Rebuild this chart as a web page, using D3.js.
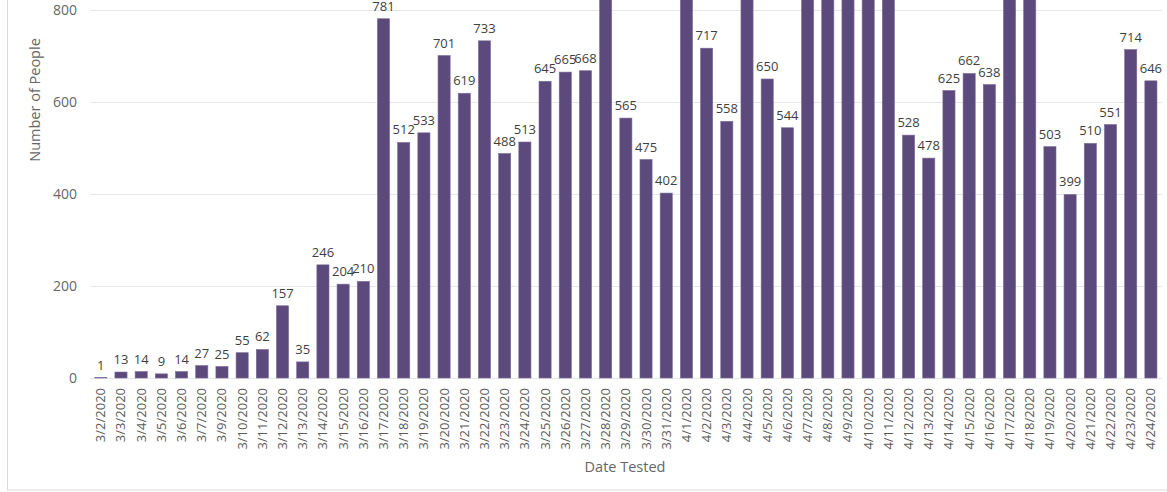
<!DOCTYPE html>
<html>
<head>
<meta charset="utf-8">
<script src="https://cdn.jsdelivr.net/npm/d3@7"></script>
<style>
  body { margin: 0; background: #fff; }
  svg { display: block; font-family: "Open Sans", "Noto Sans", sans-serif; }
  .grid line { stroke: #e6e6e6; }
  .tick-y { fill: #666; font-size: 14px; }
  .tick-x { fill: #595959; font-size: 13px; }
  .bar-label { fill: #3f3f3f; font-size: 13px; }
  .axis-title { fill: #666; font-size: 14.5px; }
</style>
</head>
<body>
<div id="chart"></div>
<script>
// dates tested (no 3/8 in the source)
const dates = ["3/2/2020", "3/3/2020", "3/4/2020", "3/5/2020", "3/6/2020", "3/7/2020", "3/9/2020",
  "3/10/2020", "3/11/2020", "3/12/2020", "3/13/2020", "3/14/2020", "3/15/2020", "3/16/2020",
  "3/17/2020", "3/18/2020", "3/19/2020", "3/20/2020", "3/21/2020", "3/22/2020", "3/23/2020",
  "3/24/2020", "3/25/2020", "3/26/2020", "3/27/2020", "3/28/2020", "3/29/2020", "3/30/2020",
  "3/31/2020", "4/1/2020", "4/2/2020", "4/3/2020", "4/4/2020", "4/5/2020", "4/6/2020",
  "4/7/2020", "4/8/2020", "4/9/2020", "4/10/2020", "4/11/2020", "4/12/2020", "4/13/2020",
  "4/14/2020", "4/15/2020", "4/16/2020", "4/17/2020", "4/18/2020", "4/19/2020", "4/20/2020",
  "4/21/2020", "4/22/2020", "4/23/2020", "4/24/2020"];

// people tested per day (bars above 800 are cut off in the picture, their values are guesses)
const people = [1, 13, 14, 9, 14, 27, 25,
  55, 62, 157, 35, 246, 204, 210,
  781, 512, 533, 701, 619, 733, 488,
  513, 645, 665, 668, 870, 565, 475,
  402, 905, 717, 558, 880, 650, 544,
  1020, 960, 990, 1010, 930, 528, 478,
  625, 662, 638, 890, 860, 503, 399,
  510, 551, 714, 646];

const yTicks = [0, 200, 400, 600, 800];

const width = 1167, height = 492;

const svg = d3.select('#chart').append('svg')
  .attr('width', width)
  .attr('height', height);

// light frame round the chart
svg.append('rect')
  .attr('x', 7.5).attr('y', -10)
  .attr('width', width + 10).attr('height', 500)
  .attr('fill', 'none').attr('stroke', '#dadada');

const x = d3.scaleBand()
  .domain(dates)
  .range([90.7, 1161])
  .paddingInner(0.4)
  .paddingOuter(0.2);

const y = d3.scaleLinear()
  .domain([0, 800])
  .range([378, 10]);

// gridlines
const grid = svg.append('g').attr('class', 'grid');
grid.selectAll('line')
  .data(yTicks)
  .join('line')
  .attr('x1', 90).attr('x2', 1162)
  .attr('y1', d => Math.round(y(d)) + 0.5)
  .attr('y2', d => Math.round(y(d)) + 0.5);

svg.append('g').selectAll('text')
  .data(yTicks)
  .join('text')
  .attr('class', 'tick-y')
  .attr('x', 77)
  .attr('y', d => y(d) + 5)
  .attr('text-anchor', 'end')
  .text(d => d);

// bars
svg.append('g').selectAll('rect')
  .data(dates)
  .join('rect')
  .attr('x', d => x(d))
  .attr('width', x.bandwidth())
  .attr('y', (d, i) => y(people[i]))
  .attr('height', (d, i) => y(0) - y(people[i]))
  .attr('fill', '#5c4a7d')
  .attr('stroke', '#7a6a9a')
  .attr('stroke-width', 0.6);

// value labels; the ones of bars running off the top are not in view
const shown = dates.map((d, i) => i).filter(i => y(people[i]) - 8 > 0);
svg.append('g').selectAll('text')
  .data(shown)
  .join('text')
  .attr('class', 'bar-label')
  .attr('x', i => x(dates[i]) + x.bandwidth() / 2)
  .attr('y', i => y(people[i]) - 8)
  .attr('text-anchor', 'middle')
  .text(i => people[i]);

// x tick labels, rotated
svg.append('g').selectAll('text')
  .data(dates)
  .join('text')
  .attr('class', 'tick-x')
  .attr('text-anchor', 'end')
  .attr('transform', d => 'translate(' + (x(d) + x.bandwidth() / 2 + 4.5) + ',388) rotate(-90)')
  .text(d => d);

svg.append('text')
  .attr('class', 'axis-title')
  .attr('text-anchor', 'middle')
  .attr('transform', 'translate(40,100) rotate(-90)')
  .text('Number of People');

svg.append('text')
  .attr('class', 'axis-title')
  .attr('text-anchor', 'middle')
  .attr('x', 625)
  .attr('y', 472)
  .text('Date Tested');
</script>
</body>
</html>
